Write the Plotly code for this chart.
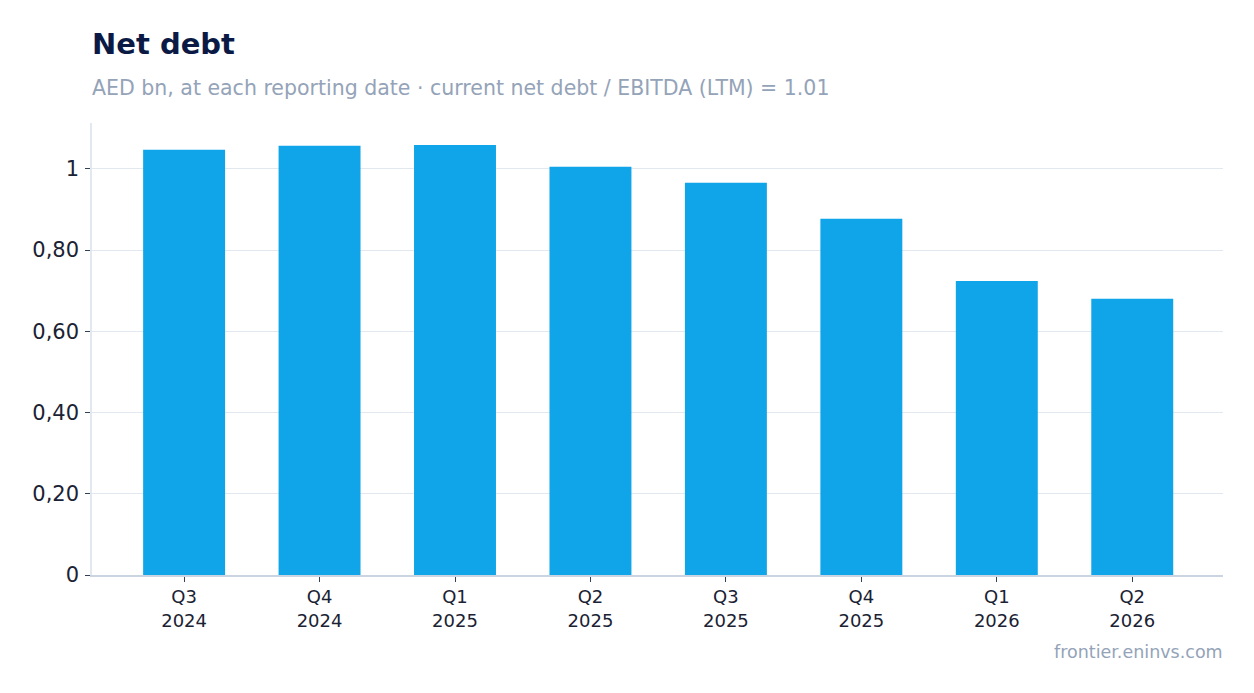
import plotly.graph_objects as go

# Net debt per reporting date (AED bn)
quarters = ["Q3<br>2024", "Q4<br>2024", "Q1<br>2025", "Q2<br>2025",
            "Q3<br>2025", "Q4<br>2025", "Q1<br>2026", "Q2<br>2026"]
net_debt = [1.047, 1.057, 1.059, 1.005, 0.966, 0.877, 0.724, 0.680]

y_ticks = [0, 0.2, 0.4, 0.6, 0.8, 1]
y_labels = ["0", "0,20", "0,40", "0,60", "0,80", "1"]

fig = go.Figure()
fig.add_trace(go.Bar(
    x=quarters,
    y=net_debt,
    marker_color="#10a5e8",
    marker_line_width=0,
    hovertemplate="%{x}: %{y:.2f}<extra></extra>",
))

# page body has an 8px margin, so margins are trimmed to compensate
fig.update_layout(
    width=1254, height=693,
    margin=dict(l=84, r=39, t=115, b=126),
    paper_bgcolor="white",
    plot_bgcolor="white",
    font=dict(family="DejaVu Sans", color="#1a2233"),
    bargap=0.395,
    showlegend=False,
    annotations=[
        dict(text="<b>Net debt</b>", xref="paper", yref="paper",
             x=0, y=1, xanchor="left", yanchor="bottom", yshift=60, xshift=-2,
             showarrow=False, font=dict(size=29, color="#0b1a45")),
        dict(text="AED bn, at each reporting date · current net debt / EBITDA (LTM) = 1.01",
             xref="paper", yref="paper", x=0, y=1, xanchor="left", yanchor="bottom",
             yshift=21, xshift=-2, showarrow=False, font=dict(size=20.5, color="#94a3b8")),
        dict(text="frontier.eninvs.com", xref="paper", yref="paper",
             x=1, y=0, xanchor="right", yanchor="top", yshift=-65, xshift=2,
             showarrow=False, font=dict(size=17.5, color="#94a3b8")),
    ],
)

fig.update_xaxes(
    range=[-0.68, 7.67],
    showgrid=False,
    showline=True, linecolor="#cbd5e1", linewidth=1.5,
    ticks="outside", ticklen=5, tickcolor="#334155",
    tickfont=dict(size=18, color="#1a2233"),
)
fig.update_yaxes(
    range=[0, 1.113],
    tickvals=y_ticks, ticktext=y_labels,
    showgrid=True, gridcolor="#e2e8f0", gridwidth=1.2,
    showline=True, linecolor="#e2e8f0", linewidth=1.5,
    zeroline=False,
    ticks="outside", ticklen=5, tickcolor="#334155",
    ticklabelstandoff=2,
    tickfont=dict(size=21, color="#1a2233"),
)

fig.write_html("out.html")
